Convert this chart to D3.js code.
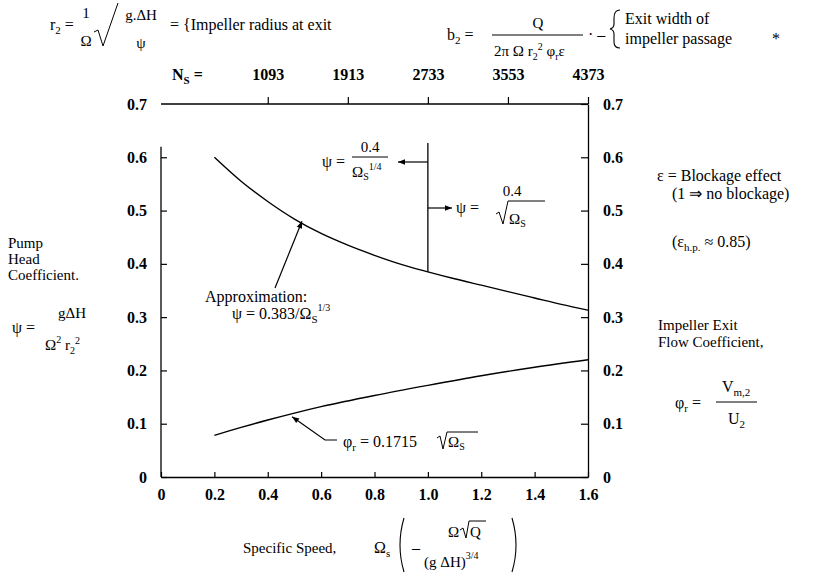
<!DOCTYPE html>
<html><head><meta charset="utf-8">
<script src="https://cdn.jsdelivr.net/npm/d3@7"></script>
<style>
html,body{margin:0;padding:0;background:#fff;}
svg text{font-family:"Liberation Serif","Times New Roman",serif;fill:#000;}
</style></head><body>
<svg id="chart" width="830" height="585"></svg>
<script>
// ---------- data ----------
const omegaPsi = [0.2,0.3,0.4,0.5,0.6,0.7,0.8,0.9,1.0,1.1,1.2,1.3,1.4,1.5,1.6];
const psiValues = [0.600,0.555,0.517,0.484,0.457,0.435,0.416,0.399,0.385,0.372,0.360,0.348,0.336,0.324,0.313];
const omegaPhi = [0.2,0.3,0.4,0.5,0.6,0.8,1.0,1.2,1.4,1.6];
const phiValues = [0.078,0.093,0.107,0.120,0.132,0.153,0.172,0.190,0.206,0.220];
const xTicks = [0,0.2,0.4,0.6,0.8,1.0,1.2,1.4,1.6];
const xTickLabels = ["0","0.2","0.4","0.6","0.8","1.0","1.2","1.4","1.6"];
const yTicks = [0,0.1,0.2,0.3,0.4,0.5,0.6,0.7];
const yTickLabels = ["0","0.1","0.2","0.3","0.4","0.5","0.6","0.7"];
const nsTicks = [0.4,0.7,1.0,1.3,1.6];
const nsLabels = ["1093","1913","2733","3553","4373"];
const dividerOmega = 1.0;

// ---------- scales ----------
const svg = d3.select("#chart");
const x = d3.scaleLinear().domain([0,1.6]).range([161,588]);
const y = d3.scaleLinear().domain([0,0.7]).range([477,104]);

const defs = svg.append("defs");
defs.append("marker").attr("id","arr").attr("viewBox","0 0 10 10").attr("refX",10).attr("refY",5)
  .attr("markerWidth",9).attr("markerHeight",7).attr("orient","auto-start-reverse")
  .attr("markerUnits","userSpaceOnUse")
  .append("path").attr("d","M0,1 L10,5 L0,9 z").attr("fill","#000");

// bottom axis
const gx = svg.append("g").attr("transform",`translate(0,${y(0)})`)
  .call(d3.axisBottom(x).tickValues(xTicks).tickFormat((d,i)=>xTickLabels[i]).tickSizeInner(-5).tickSizeOuter(0).tickPadding(12));
// left axis
const gl = svg.append("g").attr("transform",`translate(${x(0)},0)`)
  .call(d3.axisLeft(y).tickValues(yTicks).tickFormat((d,i)=>yTickLabels[i]).tickSizeInner(-6).tickSizeOuter(0).tickPadding(14));
gl.select(".domain").remove();
gl.selectAll(".tick").filter(d=>d===0.7).select("line").remove();
svg.append("line").attr("x1",x(0)).attr("x2",x(0)).attr("y1",y(0)).attr("y2",y(0.62)).attr("stroke","#000").attr("stroke-width",1.3);
// right axis
const gr = svg.append("g").attr("transform",`translate(${x(1.6)},0)`)
  .call(d3.axisRight(y).tickValues(yTicks).tickFormat((d,i)=>yTickLabels[i]).tickSizeInner(-7).tickSizeOuter(0).tickPadding(15));
// top axis (N_s)
const gt = svg.append("g").attr("transform",`translate(0,${y(0.7)})`)
  .call(d3.axisTop(x).tickValues(nsTicks).tickFormat((d,i)=>nsLabels[i]).tickSizeInner(7).tickSizeOuter(0).tickPadding(17));
gt.select(".domain").attr("d",`M${x(0)},0H${x(1.6)}`);

[gx,gl,gr,gt].forEach(g=>{
  g.selectAll(".domain").attr("stroke","#000").attr("stroke-width",1.3);
  g.selectAll(".tick line").attr("stroke","#000").attr("stroke-width",1.2);
  g.selectAll(".tick text").style("font-family",'"Liberation Serif",serif')
   .style("font-size","16px").style("font-weight","bold").attr("fill","#000");
});
gl.selectAll(".tick text").attr("text-anchor","end");
gr.selectAll(".tick text").attr("text-anchor","start");

// N_s label
const ns = svg.append("text").attr("x",172).attr("y",y(0.7)-24).style("font-size","16px").style("font-weight","bold");
ns.append("tspan").text("N");
ns.append("tspan").attr("dy",4).style("font-size","11px").text("S");
ns.append("tspan").attr("dy",-4).text(" =");

// ---------- curves ----------
const line = d3.line().x(d=>x(d[0])).y(d=>y(d[1])).curve(d3.curveMonotoneX);
svg.append("path").datum(omegaPsi.map((o,i)=>[o,psiValues[i]])).attr("d",line)
  .attr("fill","none").attr("stroke","#000").attr("stroke-width",1.4);
svg.append("path").datum(omegaPhi.map((o,i)=>[o,phiValues[i]])).attr("d",line)
  .attr("fill","none").attr("stroke","#000").attr("stroke-width",1.4);

// divider line at Omega_S = 1.0
svg.append("line").attr("x1",x(dividerOmega)).attr("x2",x(dividerOmega)).attr("y1",143).attr("y2",y(0.385))
  .attr("stroke","#000").attr("stroke-width",1.3);
svg.append("line").attr("x1",x(dividerOmega)).attr("x2",398).attr("y1",162).attr("y2",162)
  .attr("stroke","#000").attr("stroke-width",1.2).attr("marker-end","url(#arr)");
svg.append("line").attr("x1",x(dividerOmega)).attr("x2",452).attr("y1",208).attr("y2",208)
  .attr("stroke","#000").attr("stroke-width",1.2).attr("marker-end","url(#arr)");

function T(xp,yp,str,size,anchor){
  return svg.append("text").attr("x",xp).attr("y",yp).style("font-size",(size||16)+"px")
    .attr("text-anchor",anchor||"start").text(str);
}

// ψ = 0.4 / Ω_S^{1/4}
T(322,167,"ψ =",16);
T(370,152,"0.4",15,"middle");
svg.append("line").attr("x1",352).attr("x2",388).attr("y1",157).attr("y2",157).attr("stroke","#000");
let t = T(352,177,"Ω",15); t.append("tspan").attr("dy",3).style("font-size","10px").text("S");
t.append("tspan").attr("dy",-10).style("font-size","10px").text("1/4");

// ψ = 0.4/√Ω_S
T(456,213,"ψ =",16);
T(512,196,"0.4",15,"middle");
svg.append("path").attr("d","M496,214 L499,212 L503,224 L508,201 L545,201").attr("fill","none").attr("stroke","#000").attr("stroke-width",1);
t = T(509,224,"Ω",15); t.append("tspan").attr("dy",3).style("font-size","10px").text("S");

// Approximation
T(205,302,"Approximation:",16);
t = T(232,319,"ψ = 0.383/Ω",16); t.append("tspan").attr("dy",4).style("font-size","11px").text("S");
t.append("tspan").attr("dy",-12).style("font-size","10px").text("1/3");
svg.append("line").attr("x1",275).attr("y1",288).attr("x2",302).attr("y2",y(0.48)).attr("stroke","#000").attr("stroke-width",1.2).attr("marker-end","url(#arr)");

// phi_r leader
svg.append("path").attr("d",`M337,440 L325,440 L${x(0.48)+3},${y(0.117)+2}`).attr("fill","none").attr("stroke","#000").attr("stroke-width",1.2).attr("marker-end","url(#arr)");
t = T(343,447,"φ",16); t.append("tspan").attr("dy",4).style("font-size","11px").text("r");
t.append("tspan").attr("dy",-4).text(" = 0.1715  ");
svg.append("path").attr("d","M437,438 L440,436 L443,449 L447,432 L478,432").attr("fill","none").attr("stroke","#000").attr("stroke-width",1);
t = T(448,447,"Ω",15); t.append("tspan").attr("dy",3).style("font-size","10px").text("S");

// left labels
T(8,248,"Pump",15); T(8,264,"Head",15); T(8,280,"Coefficient.",15);
T(12,333,"ψ =",16);
T(72,318,"gΔH",15,"middle");
t = T(45,350,"Ω",15); t.append("tspan").attr("dy",-7).style("font-size","10px").text("2");
t.append("tspan").attr("dy",7).text(" r"); t.append("tspan").attr("dy",4).style("font-size","10px").text("2");
t.append("tspan").attr("dy",-10).style("font-size","10px").text("2");

// right labels
T(657,181,"ε = Blockage effect",16);
T(672,199,"(1 ⇒ no blockage)",16);
t = T(672,247,"(ε",16); t.append("tspan").attr("dy",4).style("font-size","11px").text("h.p.");
t.append("tspan").attr("dy",-4).text(" ≈ 0.85)");
T(658,330,"Impeller Exit",15); T(658,347,"Flow Coefficient,",15);
t = T(675,408,"φ",16); t.append("tspan").attr("dy",4).style("font-size","11px").text("r");
t.append("tspan").attr("dy",-4).text("  =");
svg.append("line").attr("x1",716).attr("x2",757).attr("y1",402).attr("y2",402).attr("stroke","#000");
t = T(722,392,"V",16); t.append("tspan").attr("dy",4).style("font-size","11px").text("m,2");
t = T(728,424,"U",16); t.append("tspan").attr("dy",4).style("font-size","11px").text("2");

// x-axis title
T(243,553,"Specific Speed,",15);
t = T(374,553,"Ω",16); t.append("tspan").attr("dy",4).style("font-size","11px").text("s");
svg.append("path").attr("d","M404,518 Q396,545 404,572").attr("fill","none").attr("stroke","#000").attr("stroke-width",1.1);
svg.append("path").attr("d","M512,518 Q520,545 512,572").attr("fill","none").attr("stroke","#000").attr("stroke-width",1.1);
T(412,553,"–",16);
T(448,537,"Ω",15);
svg.append("path").attr("d","M460,530 L463,528 L466,538 L469,521 L486,521").attr("fill","none").attr("stroke","#000").attr("stroke-width",1);
T(470,537,"Q",15);
t = T(424,567,"(g ΔH)",15); t.append("tspan").attr("dy",-8).style("font-size","10px").text("3/4");

// top formulas
t = T(50,30,"r",16); t.append("tspan").attr("dy",4).style("font-size","11px").text("2");
t.append("tspan").attr("dy",-4).text(" =");
T(86,18,"1",15,"middle");
T(86,46,"Ω",15,"middle");
svg.append("path").attr("d","M94,32 L98,30 L103,46 L118,3").attr("fill","none").attr("stroke","#000").attr("stroke-width",1);
T(141,20,"g.ΔH",15,"middle");
T(141,48,"ψ",15,"middle");
T(170,30,"= {Impeller radius at exit",16);

t = T(447,40,"b",16); t.append("tspan").attr("dy",4).style("font-size","11px").text("2");
t.append("tspan").attr("dy",-4).text(" =");
T(538,28,"Q",15,"middle");
svg.append("line").attr("x1",492).attr("x2",583).attr("y1",35).attr("y2",35).attr("stroke","#000");
t = T(494,56,"2π Ω r",15); t.append("tspan").attr("dy",4).style("font-size","10px").text("2");
t.append("tspan").attr("dy",-10).style("font-size","10px").text("2");
t.append("tspan").attr("dy",6).text(" φ"); t.append("tspan").attr("dy",4).style("font-size","10px").text("r");
t.append("tspan").attr("dy",-4).text("ε");
T(588,40,"·  –",16);
svg.append("path").attr("d","M620,10 Q614,10 614,18 L614,24 Q614,28 610,29 Q614,30 614,34 L614,42 Q614,48 620,48").attr("fill","none").attr("stroke","#000").attr("stroke-width",1.1);
T(625,24,"Exit width of",16);
T(625,44,"impeller passage",16);
T(772,44,"*",16);
</script></body></html>
